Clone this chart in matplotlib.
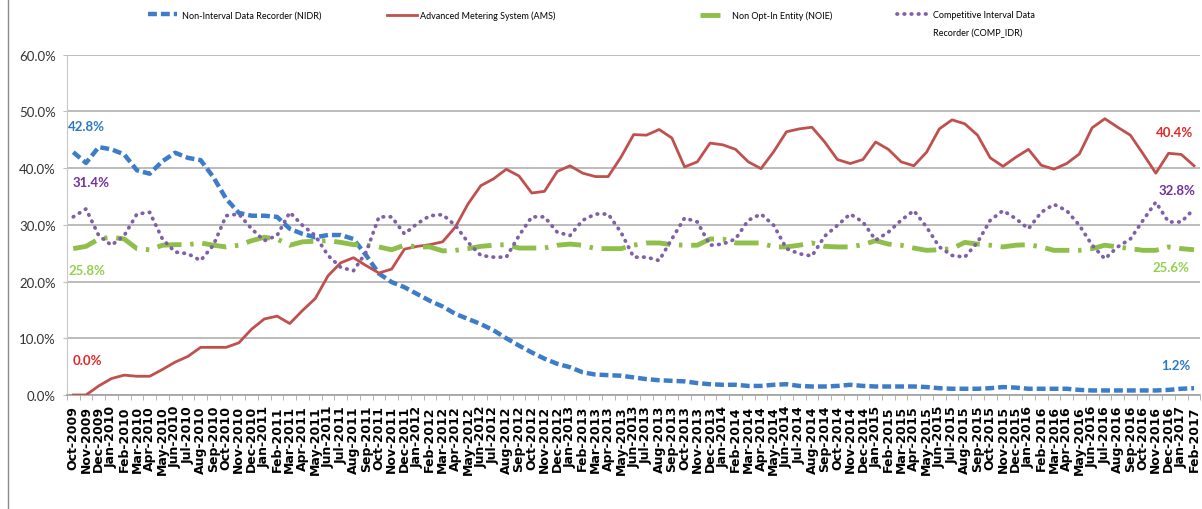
import matplotlib
matplotlib.use("Agg")
import matplotlib.pyplot as plt
from matplotlib.lines import Line2D
from matplotlib.ticker import FuncFormatter
import numpy as np
import pandas as pd

# month categories Oct-2009 .. Feb-2017
months = pd.date_range("2009-10-01", "2017-02-01", freq="MS").strftime("%b-%Y").tolist()

# share of meters by type, percent
nidr = [42.8, 40.9, 43.7, 43.3, 42.4, 39.6, 39.0, 41.2, 42.7, 41.8,
        41.4, 38.4, 34.6, 32.1, 31.6, 31.6, 31.4, 29.3, 28.4, 27.8,
        28.2, 28.2, 27.5, 24.6, 21.4, 19.9, 19.0, 17.8, 16.6, 15.6,
        14.3, 13.4, 12.5, 11.4, 10.0, 8.7, 7.5, 6.4, 5.5, 4.9,
        4.0, 3.6, 3.5, 3.4, 3.1, 2.8, 2.6, 2.5, 2.4, 2.1,
        1.9, 1.8, 1.8, 1.6, 1.6, 1.8, 1.9, 1.6, 1.5, 1.5,
        1.6, 1.8, 1.6, 1.5, 1.5, 1.5, 1.5, 1.4, 1.2, 1.1,
        1.1, 1.1, 1.2, 1.4, 1.3, 1.1, 1.1, 1.1, 1.1, 0.9,
        0.8, 0.8, 0.8, 0.8, 0.8, 0.8, 0.9, 1.1, 1.2]

ams = [0.0, 0.0, 1.6, 2.9, 3.5, 3.3, 3.3, 4.5, 5.8, 6.8,
       8.4, 8.4, 8.4, 9.2, 11.6, 13.4, 13.9, 12.6, 14.9, 17.0,
       21.0, 23.3, 24.2, 22.8, 21.5, 22.2, 25.7, 26.2, 26.5, 27.0,
       29.6, 33.7, 36.9, 38.1, 39.8, 38.6, 35.6, 35.9, 39.4, 40.4,
       39.1, 38.5, 38.5, 41.9, 45.9, 45.8, 46.8, 45.3, 40.2, 41.1,
       44.4, 44.1, 43.3, 41.1, 39.9, 42.9, 46.4, 46.9, 47.2, 44.6,
       41.5, 40.8, 41.5, 44.6, 43.3, 41.1, 40.4, 42.8, 46.9, 48.5,
       47.8, 45.8, 41.8, 40.3, 41.9, 43.3, 40.5, 39.8, 40.8, 42.5,
       47.1, 48.7, 47.2, 45.8, 42.5, 39.1, 42.6, 42.4, 40.4]

noie = [25.8, 26.2, 27.5, 27.8, 27.5, 25.8, 25.6, 26.4, 26.5, 26.5,
        26.8, 26.4, 26.1, 26.4, 27.2, 27.8, 27.5, 26.4, 27.0, 27.1,
        27.2, 26.9, 26.5, 26.4, 26.1, 25.6, 26.4, 26.1, 26.1, 25.4,
        25.5, 25.8, 26.2, 26.4, 26.5, 25.9, 25.9, 25.9, 26.4, 26.6,
        26.4, 25.8, 25.8, 25.8, 26.4, 26.8, 26.8, 26.5, 26.4, 26.4,
        27.5, 27.5, 26.8, 26.8, 26.8, 26.1, 26.1, 26.4, 26.8, 26.2,
        26.1, 26.1, 26.5, 27.2, 26.6, 26.4, 25.9, 25.5, 25.6, 25.8,
        26.9, 26.6, 26.4, 26.1, 26.4, 26.5, 26.1, 25.5, 25.5, 25.5,
        25.8, 26.4, 26.1, 25.8, 25.5, 25.5, 26.1, 25.8, 25.6]

comp_idr = [31.4, 32.8, 28.1, 26.4, 28.1, 31.9, 32.2, 27.5, 25.2, 24.9,
            23.7, 26.4, 31.6, 31.9, 29.3, 27.2, 28.1, 32.2, 29.9, 28.1,
            24.6, 22.5, 21.9, 25.2, 31.4, 31.4, 28.4, 30.2, 31.6, 31.8,
            29.9, 26.9, 24.6, 24.3, 24.3, 28.1, 31.4, 31.4, 28.7, 28.1,
            30.8, 31.9, 31.9, 28.7, 24.3, 24.3, 23.7, 27.5, 31.2, 30.5,
            26.4, 26.6, 27.5, 30.8, 31.9, 29.9, 25.8, 24.9, 24.5, 28.0,
            29.9, 31.9, 30.5, 27.3, 28.7, 30.8, 32.5, 29.6, 26.1, 24.6,
            24.3, 26.9, 30.8, 32.5, 31.1, 29.3, 32.2, 33.6, 32.5, 29.9,
            26.4, 24.0, 26.1, 27.5, 30.8, 34.0, 30.5, 30.5, 32.8]

narrow = ["Lato", "DejaVu Sans"]

W, H = 1202, 510
fig = plt.figure(figsize=(W / 100, H / 100), dpi=100)
ax = fig.add_axes([66.9 / W, 1 - 396 / H, (1200.4 - 66.9) / W, (396 - 55.6) / H])

x = np.arange(len(months))

l_nidr, = ax.plot(x, nidr, color="#3d7cc9", lw=3.2, dashes=(2.0, 0.9),
                  dash_capstyle="butt", zorder=3)
l_ams, = ax.plot(x, ams, color="#c0504d", lw=2.0, zorder=4)
l_noie, = ax.plot(x, noie, color="#8fbf4a", lw=3.5, dashes=(5.0, 1.8, 0.7, 1.8),
                  dash_capstyle="butt", zorder=5)
l_comp, = ax.plot(x, comp_idr, color="#7f5fa8", lw=2.7, dashes=(0.15, 1.75),
                  dash_capstyle="round", zorder=6)

ax.set_xlim(-0.5, len(months) - 0.5)
ax.set_ylim(0, 60)
ax.set_yticks(np.arange(0, 61, 10))
ax.yaxis.set_major_formatter(FuncFormatter(lambda v, _: f"{v:.1f}%"))
ax.grid(axis="y", color="#b0b0b0", lw=1.2)
ax.set_axisbelow(True)

ax.set_xticks(x)
ax.set_xticklabels(months, rotation=90, fontsize=9, fontweight="bold",
                   family="DejaVu Sans")
ax.set_xticks(np.arange(-0.5, len(months), 1), minor=True)
ax.tick_params(axis="x", which="major", length=0, pad=7.2)
ax.tick_params(axis="x", which="minor", length=3.6, color="#a6a6a6")
ax.tick_params(axis="y", length=3, color="#bfbfbf", pad=5, labelcolor="#333333")
for lab in ax.get_yticklabels():
    lab.set_family(narrow)
    lab.set_fontsize(9.5)

for s in ["top", "right"]:
    ax.spines[s].set_visible(False)
ax.spines["left"].set_color("#c8c8c8")
ax.spines["bottom"].set_color("#a0a0a0")
ax.spines["bottom"].set_linewidth(1.2)

# data labels at first and last month
px = 0.72
last = len(months) - 1
labels = [
    (0, nidr[0], 13, 26, "#2b78c8"),
    (0, comp_idr[0], 18, 35, "#7030a0"),
    (0, noie[0], 14, -21, "#92d050"),
    (0, ams[0], 14, 35, "#e02828"),
    (last, ams[last], -20, 34, "#e02828"),
    (last, comp_idr[last], -17, 19, "#7030a0"),
    (last, noie[last], -23, -17, "#92d050"),
    (last, nidr[last], -18, 23, "#2b78c8"),
]
for xi, v, dx, dy, c in labels:
    ax.annotate(f"{v:.1f}%", xy=(xi, v), xytext=(dx * px, dy * px),
                textcoords="offset points", ha="center", va="center",
                color=c, fontsize=9.5, fontweight="bold", family=narrow)

# legend, one entry at a time like the original layout
fs = 6.5
leg_items = [
    (l_nidr, "Non-Interval Data Recorder (NIDR)", 148, 29, 5),
    (l_ams, "Advanced Metering System (AMS)", 387, 30, 3),
    (l_noie, "Non Opt-In Entity (NOIE)", 700, 20, 12),
    (l_comp, "Competitive Interval Data", 897, 31, 5),
]
for h, txt, x0, hl, tp in leg_items:
    fig.legend(handles=[h], labels=[txt], loc="center left",
               bbox_to_anchor=(x0 / W, 1 - 16 / H), frameon=False,
               prop={"family": narrow, "size": fs},
               handlelength=hl * px / fs, handletextpad=tp * px / fs,
               borderpad=0, borderaxespad=0)
fig.text(933 / W, 1 - 33 / H, "Recorder (COMP_IDR)", ha="left", va="center",
         fontsize=fs, family=narrow)

fig.add_artist(Line2D([8 / W, 8 / W], [0, 1], transform=fig.transFigure,
                      color="#8c8c8c", lw=1))

plt.savefig("out.png", dpi=100)
plt.close()
